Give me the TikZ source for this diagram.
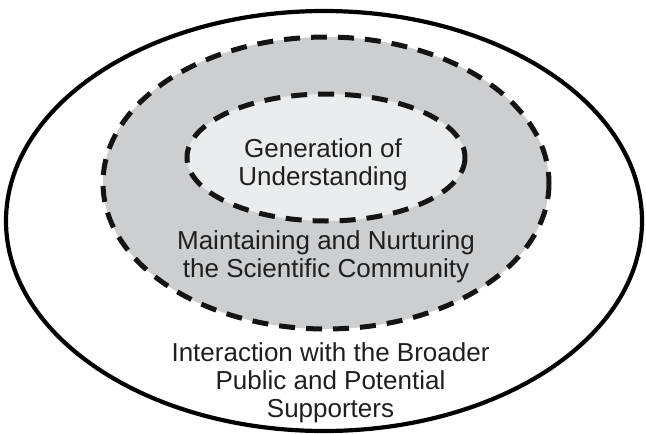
\documentclass[tikz,border=0pt]{standalone}
\usepackage{fontspec}
\setmainfont{Liberation Sans}
\usetikzlibrary{shapes.geometric}
\definecolor{midgray}{HTML}{CDCED0}
\definecolor{innergray}{HTML}{EBECEE}
\tikzset{
  ring/.style={draw=black!92, line width=5pt, dash pattern=on 16pt off 11pt},
  lbl/.style={align=center, font=\fontsize{26}{28}\selectfont, text=black!88, inner sep=0pt}
}
\begin{document}
\begin{tikzpicture}[x=1pt,y=-1pt]
\useasboundingbox (0,0) rectangle (646,434);
\draw[line width=4.2pt] (324,221) ellipse [x radius=318, y radius=210];
\fill[midgray] (326,183) ellipse [x radius=223, y radius=146];
\draw[ring] (326,183) ellipse [x radius=223, y radius=146];
\fill[innergray] (326,157.5) ellipse [x radius=139, y radius=63.5];
\draw[ring] (326,157.5) ellipse [x radius=139, y radius=63.5];
\node[lbl] (gen) at (323,164.5) {Generation of\\Understanding};
\node[lbl] (mnt) at (326,257) {Maintaining and Nurturing\\the Scientific Community};
\node[lbl] (int) at (330.5,383) {Interaction with the Broader\\Public and Potential\\Supporters};
\end{tikzpicture}
\end{document}
